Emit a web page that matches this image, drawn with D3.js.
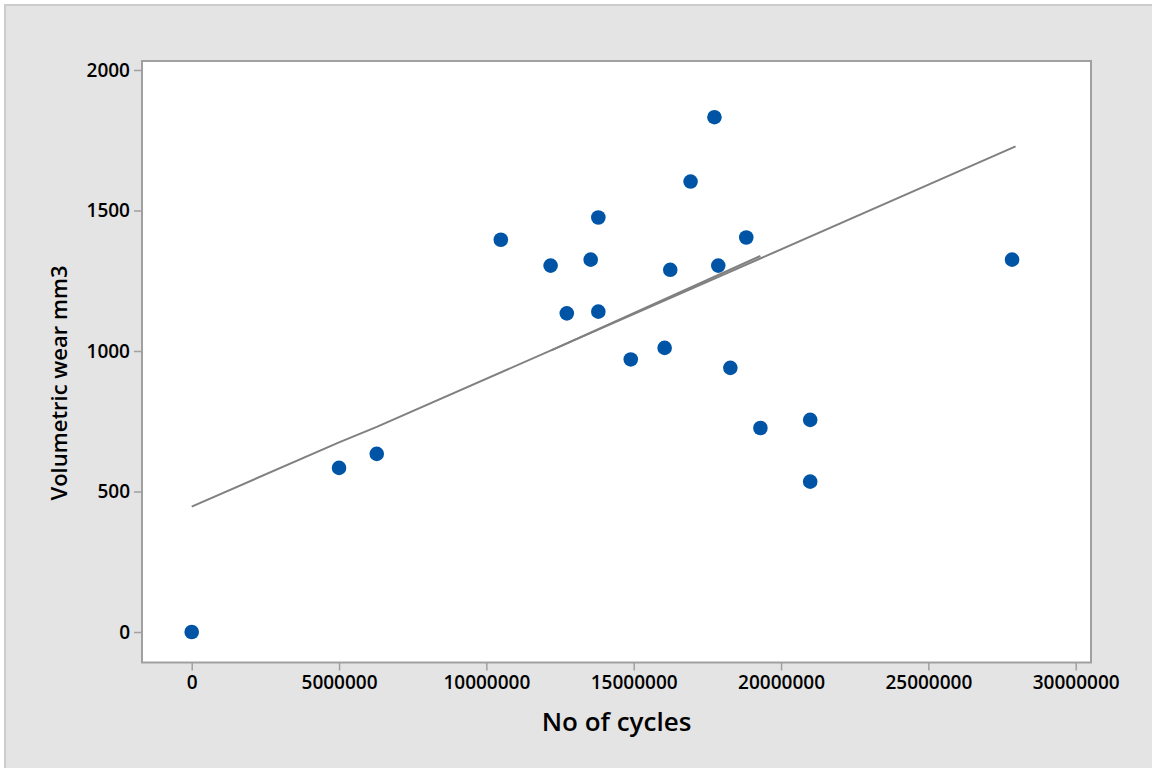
<!DOCTYPE html>
<html>
<head>
<meta charset="utf-8">
<script src="https://cdn.jsdelivr.net/npm/d3@7"></script>
<style>
  html, body { margin: 0; padding: 0; background: #ffffff; }
  svg { display: block; }
  text { font-family: "Open Sans", "Noto Sans", sans-serif; fill: #000; }
</style>
</head>
<body>
<svg id="chart" width="1152" height="768"></svg>
<script>
// Observations: number of cycles vs. volumetric wear (mm3)
const cycles = [0, 5000000, 6280000, 10490000, 12180000, 12730000, 13540000, 13800000,
  13800000, 14900000, 16050000, 16240000, 16930000, 17740000, 17870000, 18280000,
  18820000, 19300000, 20990000, 20990000, 27840000];
const wear = [0, 584, 634, 1396, 1304, 1134, 1325, 1475, 1140, 970, 1011, 1289,
  1603, 1832, 1304, 940, 1404, 726, 755, 535, 1325];

// Fitted trend, drawn as connected segments
const fitCycles = [0, 5000000, 6280000, 27960000];
const fitWear = [446, 675, 730, 1728];
const fitCycles2 = [12200000, 19300000];
const fitWear2 = [1002, 1338];

const xTicks = [0, 5000000, 10000000, 15000000, 20000000, 25000000, 30000000];
const yTicks = [0, 500, 1000, 1500, 2000];
const xTitle = "No of cycles";
const yTitle = "Volumetric wear mm3";

const svg = d3.select("#chart");

// Panel background with light frame
svg.append("rect")
  .attr("x", 5).attr("y", 5).attr("width", 1160).attr("height", 780)
  .attr("fill", "#e4e4e4").attr("stroke", "#cdcdcd").attr("stroke-width", 2);

const box = { left: 142, top: 61, right: 1091, bottom: 662.5 };

const x = d3.scaleLinear().domain([0, 30000000]).range([191.7, 1075.7]);
const y = d3.scaleLinear().domain([0, 2000]).range([632, 70]);

// Data region
svg.append("rect")
  .attr("x", box.left).attr("y", box.top)
  .attr("width", box.right - box.left).attr("height", box.bottom - box.top)
  .attr("fill", "#ffffff").attr("stroke", "#a0a0a0").attr("stroke-width", 2);

// Axes
const xAxis = svg.append("g")
  .attr("transform", `translate(0,${box.bottom})`)
  .call(d3.axisBottom(x).tickValues(xTicks).tickFormat(d3.format("d")).tickSizeOuter(0).tickSize(8).tickPadding(5));
xAxis.select(".domain").remove();
xAxis.selectAll(".tick line").attr("stroke", "#a0a0a0").attr("stroke-width", 1.5);
xAxis.selectAll(".tick text").attr("font-size", 19).attr("font-weight", 600)
  .attr("font-family", "Open Sans").attr("fill", "#000");

const yAxis = svg.append("g")
  .attr("transform", `translate(${box.left},0)`)
  .call(d3.axisLeft(y).tickValues(yTicks).tickFormat(d3.format("d")).tickSizeOuter(0).tickSize(8).tickPadding(4));
yAxis.select(".domain").remove();
yAxis.selectAll(".tick line").attr("stroke", "#a0a0a0").attr("stroke-width", 1.5);
yAxis.selectAll(".tick text").attr("font-size", 19).attr("font-weight", 600)
  .attr("font-family", "Open Sans").attr("fill", "#000");

// Fitted line
const line = d3.line().x(d => x(d[0])).y(d => y(d[1]));
svg.append("path")
  .datum(d3.zip(fitCycles, fitWear))
  .attr("d", line).attr("fill", "none")
  .attr("stroke", "#808080").attr("stroke-width", 2);
svg.append("path")
  .datum(d3.zip(fitCycles2, fitWear2))
  .attr("d", line).attr("fill", "none")
  .attr("stroke", "#808080").attr("stroke-width", 2);

// Points
svg.append("g").selectAll("circle")
  .data(d3.zip(cycles, wear))
  .join("circle")
  .attr("cx", d => x(d[0])).attr("cy", d => y(d[1]))
  .attr("r", 7.3).attr("fill", "#0054a6");

// Axis titles
svg.append("text")
  .attr("x", (box.left + box.right) / 2).attr("y", 731)
  .attr("text-anchor", "middle").attr("font-size", 26).attr("font-weight", 600)
  .text(xTitle);
svg.append("text")
  .attr("transform", "translate(67,383) rotate(-90)")
  .attr("text-anchor", "middle").attr("font-size", 22).attr("font-weight", 600)
  .text(yTitle);
</script>
</body>
</html>
